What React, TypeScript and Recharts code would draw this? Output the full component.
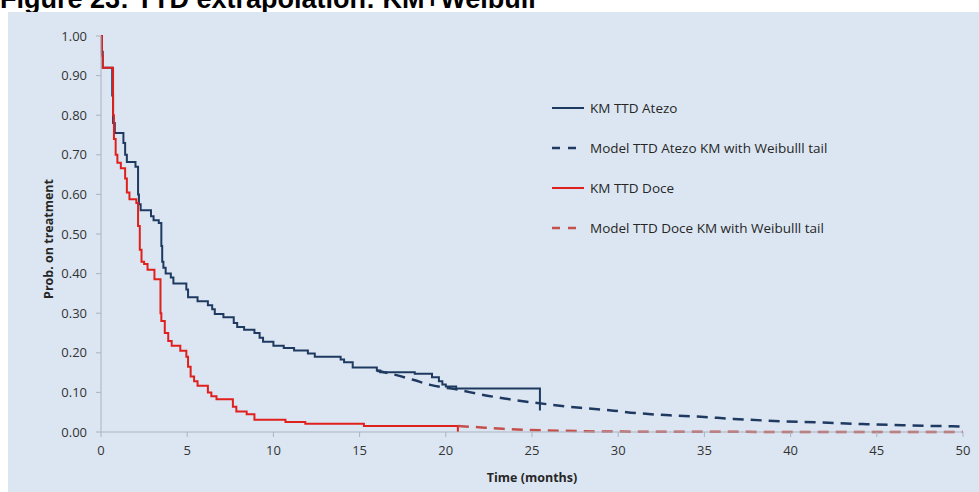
import { LineChart, Line, XAxis, YAxis } from 'recharts'

// KM step points (time in months, probability on treatment)
const atezoKmT = [0, 0.05, 0.1, 0.65, 0.7, 0.8, 1.3, 1.4, 1.5, 2.0, 2.15, 2.2, 2.3, 2.9, 3.05, 3.35, 3.5, 3.55, 3.62, 3.75, 4.05, 4.2, 4.95, 5.05, 5.6, 6.2, 6.45, 6.6, 7.1, 7.7, 7.9, 8.3, 8.9, 9.2, 9.4, 10.0, 10.6, 11.2, 12.0, 12.4, 13.9, 14.1, 14.6, 16.0, 16.2, 18.2, 19.2, 19.6, 19.8, 20.0, 20.6, 25.46]
const atezoKmP = [1.0, 0.96, 0.92, 0.85, 0.78, 0.755, 0.73, 0.7, 0.682, 0.67, 0.6, 0.575, 0.56, 0.545, 0.535, 0.528, 0.47, 0.43, 0.415, 0.4, 0.39, 0.375, 0.36, 0.34, 0.33, 0.32, 0.31, 0.298, 0.29, 0.275, 0.265, 0.258, 0.25, 0.238, 0.228, 0.218, 0.212, 0.206, 0.198, 0.19, 0.183, 0.176, 0.163, 0.155, 0.151, 0.147, 0.138, 0.128, 0.12, 0.115, 0.11, 0.054]

const atezoModelT = [16.0, 17.0, 18.1, 19.1, 20.8, 22.0, 23.5, 24.8, 26.1, 27.8, 29.5, 31.0, 33.0, 34.6, 36.7, 39.6, 41.7, 44.2, 46.5, 50]
const atezoModelP = [0.155, 0.145, 0.132, 0.119, 0.106, 0.095, 0.084, 0.076, 0.069, 0.061, 0.055, 0.048, 0.042, 0.039, 0.033, 0.027, 0.024, 0.02, 0.017, 0.014]

const doceKmT = [0, 0.05, 0.1, 0.7, 0.75, 0.85, 0.95, 1.15, 1.4, 1.5, 1.65, 2.05, 2.15, 2.25, 2.35, 2.5, 2.7, 3.1, 3.45, 3.5, 3.7, 3.9, 4.1, 4.6, 4.95, 5.05, 5.2, 5.4, 5.6, 6.2, 6.4, 6.7, 7.65, 7.85, 8.45, 8.9, 10.7, 11.85, 15.25, 20.7]
const doceKmP = [1.0, 0.95, 0.92, 0.8, 0.74, 0.7, 0.68, 0.666, 0.64, 0.605, 0.588, 0.578, 0.52, 0.46, 0.43, 0.424, 0.41, 0.386, 0.3, 0.28, 0.25, 0.23, 0.218, 0.205, 0.19, 0.165, 0.14, 0.128, 0.117, 0.1, 0.09, 0.083, 0.064, 0.052, 0.045, 0.031, 0.025, 0.021, 0.015, 0.0]

const doceModelT = [20.7, 21.5, 23.3, 25.9, 28, 30, 35, 40, 50]
const doceModelP = [0.015, 0.013, 0.008, 0.004, 0.002, 0.001, 0.0005, 0.0002, 0.0]

const xTicks = [0, 5, 10, 15, 20, 25, 30, 35, 40, 45, 50]
const yTicks = [0, 0.1, 0.2, 0.3, 0.4, 0.5, 0.6, 0.7, 0.8, 0.9, 1.0]

const toRows = (t: number[], p: number[]) => t.map((x, i) => ({ t: x, p: p[i] }))

const NAVY = '#1f3a60'
const RED = '#e0201c'
const RED_DASH = '#c4504c'
const FONT = '"Open Sans", "DejaVu Sans", sans-serif'

const legendItems = [
  { name: 'KM TTD Atezo', color: NAVY, dashed: false },
  { name: 'Model TTD Atezo KM with Weibulll tail', color: NAVY, dashed: true },
  { name: 'KM TTD Doce', color: RED, dashed: false },
  { name: 'Model TTD Doce KM with Weibulll tail', color: RED_DASH, dashed: true },
]

function ChartLegend() {
  return (
    <div style={{ position: 'absolute', left: 544, top: 76, fontFamily: FONT, fontSize: 13.5, color: '#262626' }}>
      {legendItems.map((it) => (
        <div key={it.name} style={{ height: 40, display: 'flex', alignItems: 'center', whiteSpace: 'nowrap' }}>
          <svg width={36} height={10} style={{ marginRight: 2 }}>
            <line
              x1={0}
              y1={5}
              x2={it.dashed ? 26 : 32}
              y2={5}
              stroke={it.color}
              strokeWidth={it.dashed ? 2.5 : 2}
              strokeDasharray={it.dashed ? '8 8' : undefined}
            />
          </svg>
          <span>{it.name}</span>
        </div>
      ))}
    </div>
  )
}

export default function App() {
  return (
    <div style={{ position: 'absolute', left: 0, top: 0, width: 979, height: 492, overflow: 'hidden', background: '#fff' }}>
      <div
        style={{
          position: 'absolute',
          left: 0,
          top: -14.5,
          fontFamily: '"Liberation Sans", Arial, sans-serif',
          fontWeight: 'bold',
          fontSize: 27,
          lineHeight: '27px',
          whiteSpace: 'nowrap',
          color: '#000',
        }}
      >
        Figure 23: TTD extrapolation: KM+Weibull
      </div>
      <div style={{ position: 'absolute', left: 8, top: 12, width: 971, height: 480, background: '#dce6f2' }}>
        <LineChart width={971} height={480} margin={{ top: 24, right: 16, left: 0, bottom: 0 }}>
          <XAxis
            dataKey="t"
            type="number"
            domain={[0, 50]}
            ticks={xTicks}
            height={60}
            stroke="#aab4c0"
            tickSize={5}
            tickMargin={9}
            tick={{ fill: '#333', fontSize: 13, fontFamily: FONT }}
            label={(props: any) => {
              const vb = props.viewBox
              return (
                <text
                  x={vb.x + vb.width / 2}
                  y={vb.y + 45}
                  textAnchor="middle"
                  dominantBaseline="central"
                  fontFamily={FONT}
                  fontWeight="bold"
                  fontSize={12.5}
                  fill="#262626"
                >
                  Time (months)
                </text>
              )
            }}
          />
          <YAxis
            type="number"
            domain={[0, 1]}
            ticks={yTicks}
            width={93}
            stroke="#aab4c0"
            tickSize={5}
            tickMargin={9}
            tickFormatter={(v: number) => v.toFixed(2)}
            tick={{ fill: '#333', fontSize: 13, fontFamily: FONT }}
            label={(props: any) => {
              const vb = props.viewBox
              const cx = vb.x + 40
              const cy = vb.y + vb.height / 2 + 5
              return (
                <text
                  x={cx}
                  y={cy}
                  transform={`rotate(-90 ${cx} ${cy})`}
                  textAnchor="middle"
                  dominantBaseline="central"
                  fontFamily={FONT}
                  fontWeight="bold"
                  fontSize={12.5}
                  fill="#262626"
                >
                  Prob. on treatment
                </text>
              )
            }}
          />
          <Line
            name="KM TTD Atezo"
            data={toRows(atezoKmT, atezoKmP)}
            dataKey="p"
            type="stepAfter"
            stroke={NAVY}
            strokeWidth={2}
            dot={false}
            activeDot={false}
            isAnimationActive={false}
          />
          <Line
            name="Model TTD Atezo KM with Weibulll tail"
            data={toRows(atezoModelT, atezoModelP)}
            dataKey="p"
            type="monotone"
            stroke={NAVY}
            strokeWidth={2.5}
            strokeDasharray="11 7"
            dot={false}
            activeDot={false}
            isAnimationActive={false}
          />
          <Line
            name="KM TTD Doce"
            data={toRows(doceKmT, doceKmP)}
            dataKey="p"
            type="stepAfter"
            stroke={RED}
            strokeWidth={2}
            dot={false}
            activeDot={false}
            isAnimationActive={false}
          />
          <Line
            name="Model TTD Doce KM with Weibulll tail"
            data={toRows(doceModelT, doceModelP)}
            dataKey="p"
            type="monotone"
            stroke={RED_DASH}
            strokeWidth={2.5}
            strokeDasharray="11 7"
            dot={false}
            activeDot={false}
            isAnimationActive={false}
          />
        </LineChart>
        <ChartLegend />
      </div>
    </div>
  )
}
